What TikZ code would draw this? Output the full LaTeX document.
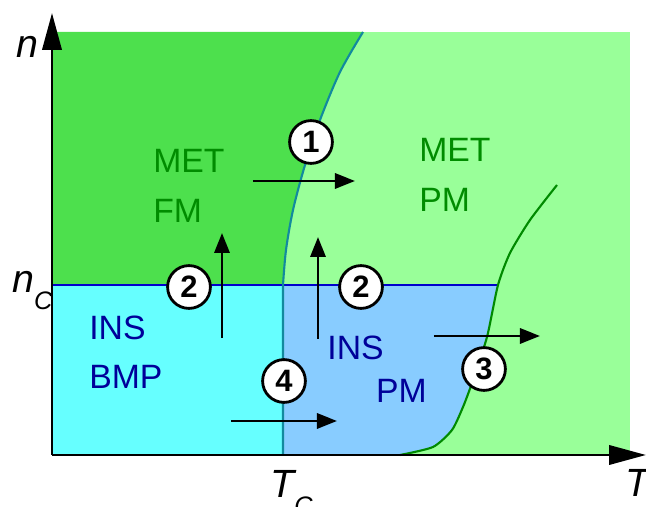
\documentclass[tikz,border=0pt]{standalone}
\usepackage{fontspec}
\setmainfont{Liberation Sans}
\usepackage{tikz}
\usetikzlibrary{arrows.meta}
\definecolor{FMGreen}{HTML}{4DE04D}
\definecolor{PMGreen}{HTML}{99FF99}
\definecolor{BMPCyan}{HTML}{66FFFF}
\definecolor{INSBlue}{HTML}{88CCFF}
\definecolor{TcTeal}{HTML}{128A9E}
\definecolor{NcBlue}{HTML}{0000CC}
\definecolor{CrossGreen}{HTML}{008A00}
\definecolor{MetText}{HTML}{008C00}
\definecolor{InsText}{HTML}{000099}
\tikzset{
  phaselbl/.style={align=left,inner sep=0pt,font=\fontsize{24}{35}\selectfont},
  metlbl/.style={phaselbl,text=MetText},
  inslbl/.style={phaselbl,text=InsText},
  stepmark/.style={circle,draw=black,fill=white,line width=2pt,
    minimum size=1.07cm,inner sep=0pt,font=\fontsize{22}{26}\selectfont\bfseries},
  flowarrow/.style={line width=1.8pt,-{Triangle[length=0.5cm,width=0.38cm]}},
  axisarrow/.style={line width=2pt,-{Triangle[length=0.92cm,width=0.48cm]}},
  axislbl/.style={inner sep=0pt,anchor=base west,font=\fontsize{28}{32}\selectfont\itshape},
}

\begin{document}
\begin{tikzpicture}
  \useasboundingbox (-1.3,-1.3) rectangle (14.85,11.375);
  % phase regions
  \fill[PMGreen] (0,0) rectangle (14.45,10.575);
  \fill[FMGreen] (0,10.575) -- (0,4.25) -- plot[smooth] coordinates {(5.775,4.25) (5.85,5.125)
    (6.025,6.125) (6.325,7.25) (6.7,8.375) (7.2,9.575) (7.775,10.575)} -- cycle;
  \fill[BMPCyan] (0,0) rectangle (5.775,4.25);
  \fill[INSBlue] (5.775,0) -- plot[smooth,tension=0.4] coordinates {(8.7,0) (9.525,0.2) (10.0,0.625)
    (10.275,1.2) (10.5,1.8) (10.875,2.95) (11.15,4.25)} -- (5.775,4.25) -- cycle;
  % boundaries
  \draw[NcBlue,line width=1.5pt] (0,4.25) -- (11.15,4.25);
  \draw[TcTeal,line width=1.5pt] (5.775,0) -- plot[smooth] coordinates {(5.775,4.25) (5.85,5.125)
    (6.025,6.125) (6.325,7.25) (6.7,8.375) (7.2,9.575) (7.775,10.575)};
  \draw[CrossGreen,line width=1.5pt] plot[smooth,tension=0.4] coordinates {(8.7,0) (9.525,0.2)
    (10.0,0.625) (10.275,1.2) (10.5,1.8) (10.875,2.95) (11.15,4.25) (11.45,5.05)
    (11.95,5.875) (12.625,6.75)};
  % axes
  \coordinate (org) at (0,0);
  \coordinate (ntip) at (0,11.05);
  \coordinate (ttip) at (14.85,0);
  \draw[axisarrow] (org) -- (ntip);
  \draw[axisarrow] (org) -- (ttip);
  \node[axislbl] (nlbl) at (-0.9,9.925) {n};
  \node[axislbl] (nclbl) at (-1.0,4.05) {n\raisebox{-12pt}{\fontsize{18}{20}\selectfont C}};
  \node[axislbl] (tclbl) at (5.45,-1.075) {T\raisebox{-12pt}{\fontsize{18}{20}\selectfont C}};
  \node[axislbl] (tlbl) at (14.325,-1.05) {T};
  % phase names
  \node[metlbl,anchor=west] (metfm) at (2.525,6.725) {MET\\FM};
  \node[metlbl,anchor=west] (metpm) at (9.175,7.0) {MET\\PM};
  \node[inslbl,anchor=west] (insbmp) at (0.925,2.575) {INS\\BMP};
  \node[inslbl] (inspm1) at (7.5875,2.6875) {INS};
  \node[inslbl] (inspm2) at (8.7375,1.6) {PM};
  % transitions
  \coordinate (a1s) at (5.025,6.85);  \coordinate (a1e) at (7.575,6.85);
  \coordinate (a2s) at (4.25,2.925);  \coordinate (a2e) at (4.25,5.55);
  \coordinate (a5s) at (6.65,2.9);    \coordinate (a5e) at (6.65,5.45);
  \coordinate (a3s) at (9.55,2.975);  \coordinate (a3e) at (12.2,2.975);
  \coordinate (a4s) at (4.475,0.85);  \coordinate (a4e) at (7.125,0.85);
  \draw[flowarrow] (a1s) -- (a1e);
  \draw[flowarrow] (a2s) -- (a2e);
  \draw[flowarrow] (a5s) -- (a5e);
  \draw[flowarrow] (a3s) -- (a3e);
  \draw[flowarrow] (a4s) -- (a4e);
  \node[stepmark] (s1) at (6.475,7.825) {1};
  \node[stepmark] (s2a) at (3.425,4.2) {2};
  \node[stepmark] (s2b) at (7.725,4.2) {2};
  \node[stepmark] (s3) at (10.8,2.15) {3};
  \node[stepmark] (s4) at (5.8,1.85) {4};
\end{tikzpicture}
\end{document}
